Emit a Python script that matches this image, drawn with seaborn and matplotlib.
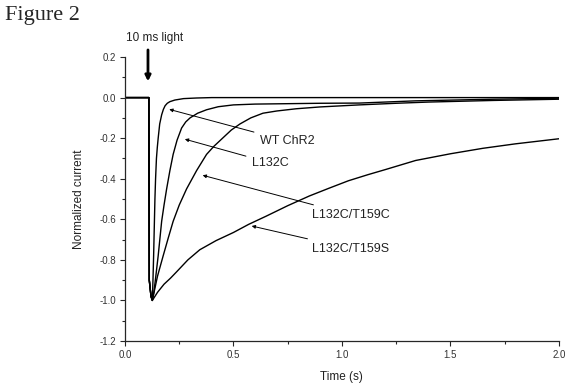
import matplotlib
matplotlib.use("Agg")
import matplotlib.pyplot as plt
from matplotlib.ticker import MultipleLocator
import seaborn as sns
import pandas as pd

# light onset (shared by all traces)
t_onset = [0.0, 0.11, 0.112, 0.12]
i_onset = [0.0, 0.0, -0.9, -0.98]

# recovery after the light pulse
t_wt = [0.126, 0.129, 0.132, 0.135, 0.138, 0.141, 0.145, 0.149, 0.153, 0.16, 0.169,
        0.177, 0.185, 0.195, 0.207, 0.23, 0.27, 0.33, 0.4, 2.0]
i_wt = [-1.0, -0.9, -0.78, -0.64, -0.5, -0.4, -0.3, -0.245, -0.2, -0.13, -0.085,
        -0.058, -0.04, -0.028, -0.02, -0.012, -0.005, -0.002, 0.0, 0.0]

t_l132c = [0.126, 0.133, 0.14, 0.153, 0.169, 0.18, 0.192, 0.207, 0.222, 0.24, 0.261,
           0.28, 0.3, 0.335, 0.376, 0.43, 0.5, 0.6, 0.75, 0.9, 1.08, 1.34, 1.7, 2.0]
i_l132c = [-1.0, -0.96, -0.9, -0.78, -0.61, -0.53, -0.45, -0.36, -0.28, -0.21, -0.15,
           -0.12, -0.10, -0.077, -0.06, -0.045, -0.036, -0.032, -0.03, -0.028, -0.027,
           -0.016, -0.008, -0.003]

t_t159c = [0.126, 0.138, 0.15, 0.176, 0.2, 0.222, 0.25, 0.284, 0.33, 0.376, 0.41, 0.45,
           0.49, 0.53, 0.58, 0.636, 0.7, 0.79, 0.9, 1.08, 1.25, 1.4, 1.7, 2.0]
i_t159c = [-1.0, -0.94, -0.88, -0.78, -0.69, -0.61, -0.53, -0.45, -0.36, -0.28, -0.24,
           -0.2, -0.16, -0.13, -0.1, -0.077, -0.066, -0.055, -0.046, -0.036, -0.028,
           -0.022, -0.014, -0.008]

t_t159s = [0.126, 0.15, 0.18, 0.21, 0.237, 0.29, 0.345, 0.42, 0.5, 0.57, 0.65, 0.75,
           0.85, 0.94, 1.03, 1.12, 1.2, 1.34, 1.5, 1.65, 1.8, 2.0]
i_t159s = [-1.0, -0.96, -0.92, -0.89, -0.86, -0.8, -0.75, -0.705, -0.665, -0.625,
           -0.585, -0.533, -0.485, -0.447, -0.41, -0.38, -0.355, -0.31, -0.277, -0.25,
           -0.228, -0.203]

labels = ["WT ChR2", "L132C", "L132C/T159C", "L132C/T159S"]
# (x, y) of arrow tip on the trace and of the label
label_tips = [(0.204, -0.058), (0.276, -0.205), (0.358, -0.383), (0.584, -0.633)]
label_pos = [(0.622, -0.214), (0.585, -0.322), (0.862, -0.578), (0.862, -0.745)]

sns.set_style("ticks")
plt.rcParams["font.family"] = ["Liberation Sans", "DejaVu Sans"]
plt.rcParams["axes.unicode_minus"] = False

fig = plt.figure(figsize=(5.8, 3.89), dpi=100)
ax = fig.add_axes([0.2155, 0.1234, 0.748, 0.730])

traces = [(t_wt, i_wt), (t_l132c, i_l132c), (t_t159c, i_t159c), (t_t159s, i_t159s)]
for name, (tt, ii) in zip(labels, traces):
    df = pd.DataFrame({"time": t_onset + tt, "current": i_onset + ii})
    sns.lineplot(data=df, x="time", y="current", color="black", lw=1.0, ax=ax)

for name, tip, pos in zip(labels, label_tips, label_pos):
    ax.annotate(name, xy=tip, xytext=pos, fontsize=9, color="#222222",
                va="center", ha="left",
                arrowprops=dict(arrowstyle="-|>", color="black", lw=0.7,
                                mutation_scale=5, shrinkA=2, shrinkB=0))

# light pulse marker
ax.annotate("", xy=(0.106, 0.08), xytext=(0.106, 0.235), annotation_clip=False,
            arrowprops=dict(arrowstyle="-|>", color="black", lw=2,
                            mutation_scale=8, shrinkA=0, shrinkB=0))
ax.text(0.135, 0.295, "10 ms light", fontsize=8.5, ha="center", va="center",
        color="#222222", clip_on=False)

ax.set_xlim(0, 2.0)
ax.set_ylim(-1.2, 0.2)
ax.xaxis.set_major_locator(MultipleLocator(0.5))
ax.xaxis.set_minor_locator(MultipleLocator(0.25))
ax.yaxis.set_major_locator(MultipleLocator(0.2))
ax.yaxis.set_minor_locator(MultipleLocator(0.1))
ax.xaxis.set_major_formatter(lambda v, p: f"{v:.1f}")
ax.yaxis.set_major_formatter(lambda v, p: f"{v:.1f}")
ax.tick_params(which="major", direction="out", length=3.5, width=0.8,
               labelsize=7, labelcolor="#333333", pad=3)
ax.tick_params(which="minor", direction="out", length=2, width=0.8)
sns.despine(ax=ax)
for s in ["left", "bottom"]:
    ax.spines[s].set_linewidth(0.9)

ax.set_xlabel("Time (s)", fontsize=8.5, color="#222222", labelpad=8)
ax.set_ylabel("Normalized current", fontsize=8.5, color="#222222", labelpad=10)

fig.text(0.009, 0.985, "Figure 2", fontsize=16, va="top", ha="left",
         family=["Liberation Serif", "DejaVu Serif"])

fig.savefig("out.png", dpi=100)
